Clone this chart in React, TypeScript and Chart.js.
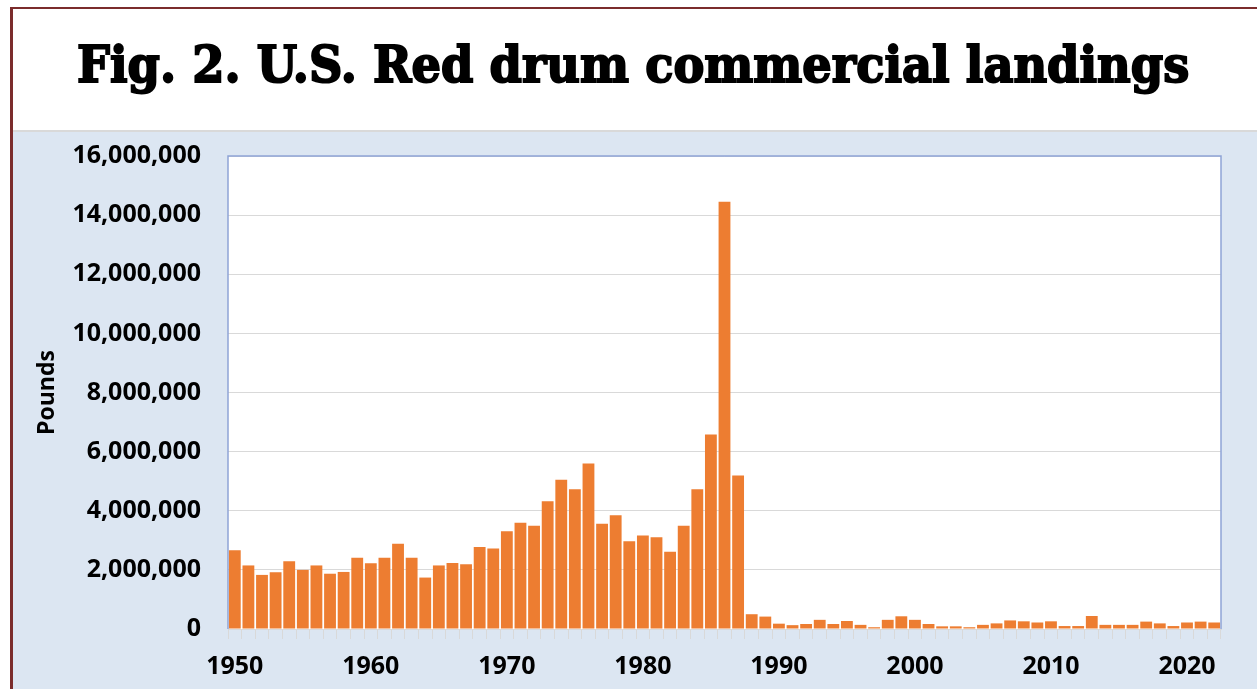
import React, { useEffect, useLayoutEffect, useRef } from "react";
import { Chart, registerables } from "chart.js";

Chart.register(...registerables);

const years: string[] = [
  "1950", "1951", "1952", "1953", "1954", "1955", "1956", "1957", "1958", "1959",
  "1960", "1961", "1962", "1963", "1964", "1965", "1966", "1967", "1968", "1969",
  "1970", "1971", "1972", "1973", "1974", "1975", "1976", "1977", "1978", "1979",
  "1980", "1981", "1982", "1983", "1984", "1985", "1986", "1987", "1988", "1989",
  "1990", "1991", "1992", "1993", "1994", "1995", "1996", "1997", "1998", "1999",
  "2000", "2001", "2002", "2003", "2004", "2005", "2006", "2007", "2008", "2009",
  "2010", "2011", "2012", "2013", "2014", "2015", "2016", "2017", "2018", "2019",
  "2020", "2021", "2022",
];

const landingsPounds: number[] = [
  2660000, 2150000, 1830000, 1920000, 2290000, 2000000, 2150000, 1870000, 1930000, 2410000,
  2220000, 2410000, 2880000, 2410000, 1740000, 2150000, 2230000, 2190000, 2770000, 2720000,
  3310000, 3590000, 3490000, 4320000, 5050000, 4730000, 5600000, 3560000, 3850000, 2970000,
  3160000, 3100000, 2610000, 3490000, 4730000, 6580000, 14450000, 5190000, 500000, 420000,
  180000, 130000, 170000, 310000, 170000, 270000, 140000, 60000, 310000, 430000,
  310000, 170000, 90000, 90000, 60000, 140000, 190000, 290000, 260000, 220000,
  260000, 100000, 100000, 440000, 140000, 140000, 140000, 250000, 190000, 100000,
  220000, 250000, 220000,
];

const xTickLabels: string[] = ["1950", "1960", "1970", "1980", "1990", "2000", "2010", "2020"];

const titleText = "Fig. 2. U.S. Red drum commercial landings";
const yAxisTitle = "Pounds";

const plotBgPlugin = {
  id: "plotBg",
  beforeDraw(chart: any) {
    const { ctx, chartArea } = chart;
    ctx.save();
    ctx.fillStyle = "#ffffff";
    ctx.fillRect(chartArea.left, chartArea.top, chartArea.right - chartArea.left, chartArea.bottom - chartArea.top);
    ctx.restore();
  },
  afterDraw(chart: any) {
    const { ctx, chartArea } = chart;
    ctx.save();
    ctx.strokeStyle = "#8ea4d6";
    ctx.lineWidth = 1.5;
    ctx.beginPath();
    ctx.moveTo(chartArea.left, chartArea.bottom);
    ctx.lineTo(chartArea.left, chartArea.top);
    ctx.lineTo(chartArea.right, chartArea.top);
    ctx.lineTo(chartArea.right, chartArea.bottom);
    ctx.stroke();
    ctx.restore();
  },
};

export default function App() {
  const canvasRef = useRef<HTMLCanvasElement | null>(null);
  const titleRef = useRef<HTMLSpanElement | null>(null);

  useLayoutEffect(() => {
    const el = titleRef.current;
    if (el) {
      const w = el.offsetWidth;
      if (w > 0) el.style.transform = `scaleX(${1112 / w})`;
    }
  }, []);

  useEffect(() => {
    if (!canvasRef.current) return;
    const tickFont = { family: "'Open Sans', sans-serif", size: 25, weight: "bold" as const };
    const chart = new Chart(canvasRef.current, {
      type: "bar",
      data: {
        labels: years,
        datasets: [
          {
            data: landingsPounds,
            backgroundColor: "#ed7d31",
            borderWidth: 0,
            barPercentage: 0.87,
            categoryPercentage: 1,
          },
        ],
      },
      plugins: [plotBgPlugin],
      options: {
        responsive: false,
        animation: false,
        events: [],
        layout: { padding: { top: 24, right: 36, left: 0, bottom: 0 } },
        plugins: { legend: { display: false }, tooltip: { enabled: false }, title: { display: false } },
        scales: {
          x: {
            type: "category",
            afterFit: (scale: any) => {
              scale.height = 60;
              scale.paddingLeft = 0;
              scale.paddingRight = 0;
            },
            grid: {
              display: true,
              drawOnChartArea: false,
              drawTicks: true,
              tickLength: 10,
              color: "#d9d9d9",
              offset: true,
            },
            border: { display: true, color: "#d9d9d9", width: 1 },
            ticks: {
              autoSkip: false,
              maxRotation: 0,
              minRotation: 0,
              padding: 13,
              color: "#000000",
              font: tickFont,
              callback: function (this: any, value: any, index: number) {
                const lbl = years[index];
                return xTickLabels.includes(lbl) ? lbl : "";
              },
            },
          },
          y: {
            min: 0,
            max: 16000000,
            afterFit: (scale: any) => {
              scale.width = 215;
              scale.paddingTop = 0;
              scale.paddingBottom = 0;
            },
            grid: { color: "#d9d9d9", drawTicks: false, lineWidth: 1 },
            border: { display: false },
            ticks: {
              stepSize: 2000000,
              padding: 27,
              color: "#000000",
              font: tickFont,
              callback: (v: any) => Number(v).toLocaleString("en-US"),
            },
            title: {
              display: true,
              text: yAxisTitle,
              color: "#000000",
              font: { family: "'Open Sans', sans-serif", size: 23, weight: "bold" },
              padding: { top: 21, bottom: 0 },
            },
          },
        },
      },
    });
    return () => chart.destroy();
  }, []);

  return (
    <div
      style={{
        position: "absolute",
        left: 0,
        top: 0,
        width: 1257,
        height: 689,
        overflow: "hidden",
        background: "#ffffff",
      }}
    >
      <div style={{ position: "absolute", left: 10, top: 7, width: 1247, height: 2, background: "#7b2c2c" }} />
      <div style={{ position: "absolute", left: 10, top: 7, width: 3, height: 682, background: "#7b2c2c" }} />
      <div
        style={{
          position: "absolute",
          left: 13,
          top: 9,
          width: 1244,
          height: 122,
          background: "#ffffff",
        }}
      >
        <div
          style={{
            position: "absolute",
            left: 0,
            top: 31,
            width: 1244,
            textAlign: "center",
            whiteSpace: "nowrap",
          }}
        >
          <span
            ref={titleRef}
            style={{
              display: "inline-block",
              fontFamily: "'DejaVu Serif', serif",
              fontWeight: 900,
              fontSize: 50,
              lineHeight: 1,
              color: "#000000",
              WebkitTextStroke: "2px #000000",
              transformOrigin: "50% 50%",
              marginLeft: -3,
            }}
          >
            {titleText}
          </span>
        </div>
      </div>
      <div style={{ position: "absolute", left: 13, top: 130, width: 1244, height: 2, background: "#d9d9d9" }} />
      <div
        style={{
          position: "absolute",
          left: 13,
          top: 132,
          width: 1244,
          height: 557,
          background: "#dce6f2",
        }}
      >
        <canvas ref={canvasRef} width={1244} height={557} style={{ display: "block" }} />
      </div>
    </div>
  );
}
